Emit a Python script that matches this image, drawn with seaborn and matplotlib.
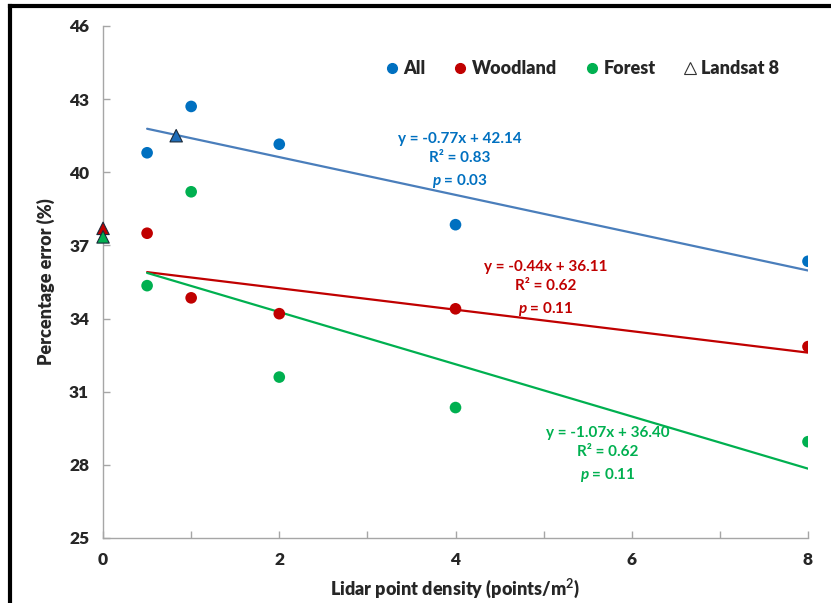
import matplotlib
matplotlib.use("Agg")
import matplotlib.pyplot as plt
import seaborn as sns
import pandas as pd
from matplotlib.lines import Line2D

# ---- data ----
density = [0.5, 1, 2, 4, 8]
all_err = [40.8, 42.7, 41.15, 37.85, 36.35]
woodland_err = [37.5, 34.85, 34.2, 34.4, 32.85]
forest_err = [35.35, 39.2, 31.6, 30.35, 28.95]

landsat_group = ["All", "Woodland", "Forest"]
landsat_x = [0.83, 0.0, 0.0]
landsat_y = [41.5, 37.7, 37.35]

groups = ["All", "Woodland", "Forest"]
eq_text = [
    "y = -0.77x + 42.14\nR² = 0.83\n$\\mathit{p}$ = 0.03",
    "y = -0.44x + 36.11\nR² = 0.62\n$\\mathit{p}$ = 0.11",
    "y = -1.07x + 36.40\nR² = 0.62\n$\\mathit{p}$ = 0.11",
]
x_ticks = [0, 2, 4, 6, 8]
y_ticks = [25, 28, 31, 34, 37, 40, 43, 46]

# ---- styling ----
sns.set_style("white")
plt.rcParams["font.family"] = ["Lato", "DejaVu Sans"]
plt.rcParams["mathtext.fontset"] = "custom"
plt.rcParams["mathtext.it"] = "Lato:italic:bold"
plt.rcParams["mathtext.rm"] = "Lato:bold"

point_col = {"All": "#0070C0", "Woodland": "#C00000", "Forest": "#00B050"}
line_col = {"All": "#4A7EBB", "Woodland": "#C00000", "Forest": "#00B050"}
tri_col = {"All": "#1F6DB8", "Woodland": "#C00000", "Forest": "#00B050"}
text_col = {"All": "#0070C0", "Woodland": "#C00000", "Forest": "#00B050"}

df = pd.DataFrame({
    "density": density * 3,
    "err": all_err + woodland_err + forest_err,
    "group": ["All"] * 5 + ["Woodland"] * 5 + ["Forest"] * 5,
})
ls = pd.DataFrame({"x": landsat_x, "y": landsat_y, "group": landsat_group})

fig = plt.figure(figsize=(8.31, 6.03), dpi=100)
ax = fig.add_axes([0.124, 0.1078, 0.8483, 0.8491])

# regression lines
for g in groups:
    sub = df[df.group == g]
    sns.regplot(data=sub, x="density", y="err", ax=ax, scatter=False, ci=None,
                truncate=True, line_kws=dict(color=line_col[g], lw=1.6, zorder=2))

# points
sns.scatterplot(data=df, x="density", y="err", hue="group", palette=point_col,
                s=70, edgecolor="none", ax=ax, legend=False, zorder=3)
sns.scatterplot(data=ls, x="x", y="y", hue="group", palette=tri_col, marker="^",
                s=80, edgecolor="#1a2a3a", linewidth=0.8, ax=ax, legend=False,
                zorder=4, clip_on=False)

# equations
eq_pos = [(460, 161), (546, 289), (608, 455)]
for g, t, (px, py) in zip(groups, eq_text, eq_pos):
    fig.text(px / 831, 1 - py / 603, t, ha="center", va="center",
             color=text_col[g], fontsize=11, fontweight="bold",
             linespacing=1.5)

ax.set_xlim(0, 8)
ax.set_ylim(25, 46)
ax.set_xticks(x_ticks)
ax.set_xticks([1, 3, 5, 7], minor=True)
ax.set_yticks(y_ticks)
ax.set_xticklabels([str(v) for v in x_ticks])
ax.set_yticklabels([str(v) for v in y_ticks])
for lab in ax.get_xticklabels() + ax.get_yticklabels():
    lab.set_fontweight("heavy")
    lab.set_fontsize(12.5)
ax.tick_params(axis="both", which="both", direction="in", length=5,
               color="#A6A6A6", width=1, left=True, bottom=True)
ax.tick_params(axis="x", pad=10)
ax.tick_params(axis="y", pad=10)
for s in ["top", "right"]:
    ax.spines[s].set_visible(False)
for s in ["left", "bottom"]:
    ax.spines[s].set_color("#A6A6A6")
    ax.spines[s].set_linewidth(1)

ax.set_xlabel("Lidar point density (points/m$^2$)", fontsize=13, fontweight="heavy", labelpad=6)
ax.set_ylabel("Percentage error (%)", fontsize=13, fontweight="heavy", labelpad=10)

# legend
handles = [
    Line2D([], [], marker="o", ls="none", color=point_col["All"], markersize=7),
    Line2D([], [], marker="o", ls="none", color=point_col["Woodland"], markersize=7),
    Line2D([], [], marker="o", ls="none", color=point_col["Forest"], markersize=7),
    Line2D([], [], marker="^", ls="none", markerfacecolor="white",
           markeredgecolor="#333333", markersize=8, markeredgewidth=0.8),
]
leg = ax.legend(handles, ["All", "Woodland", "Forest", "Landsat 8"], ncol=4,
                loc="center", bbox_to_anchor=((583 - 103) / 705, 1 - (69 - 26) / 512),
                frameon=False, handlelength=0.6, handletextpad=0.35,
                columnspacing=1.6, prop=dict(weight="heavy", size=13))

# figure border (left and top)
fig.add_artist(Line2D([10 / 831, 10 / 831], [0, 1 - 6 / 603], color="black", lw=3,
                      transform=fig.transFigure, solid_capstyle="projecting"))
fig.add_artist(Line2D([10 / 831, 1], [1 - 6 / 603, 1 - 6 / 603], color="black", lw=3,
                      transform=fig.transFigure, solid_capstyle="projecting"))

fig.savefig("out.png", dpi=100)
